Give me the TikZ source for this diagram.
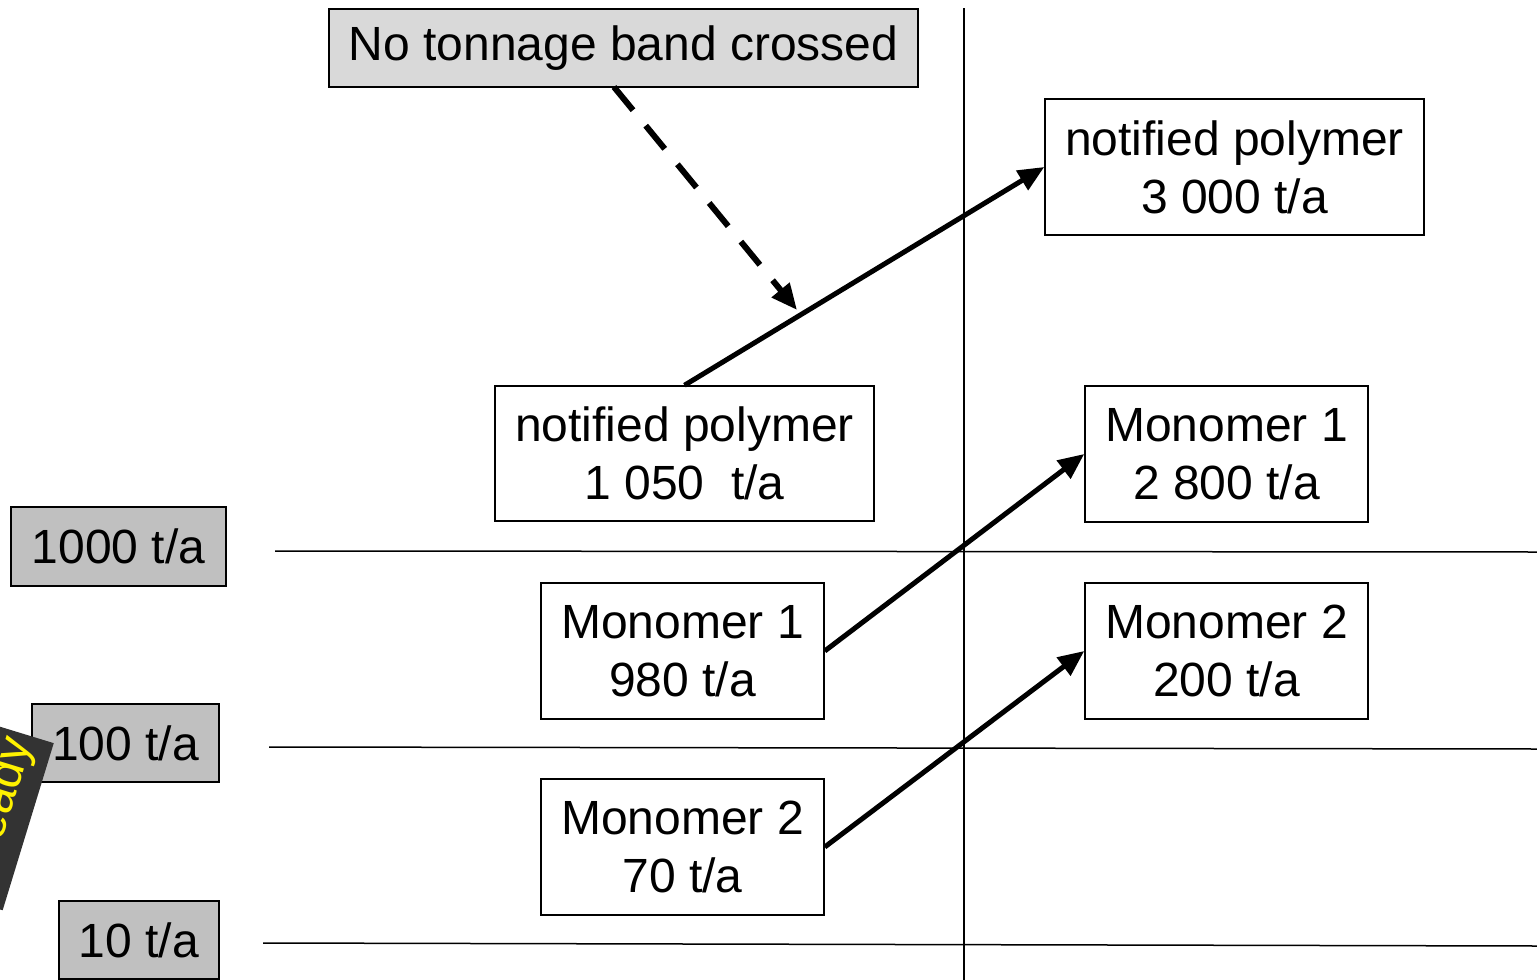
\documentclass[tikz,border=0pt]{standalone}
\usepackage{fontspec}
\setmainfont{Liberation Sans}
\usetikzlibrary{arrows.meta,calc}
\definecolor{bandgray}{HTML}{C0C0C0}
\definecolor{notegray}{HTML}{D9D9D9}
\definecolor{darkbox}{HTML}{333333}
\begin{document}
\begin{tikzpicture}[x=1pt,y=-1pt,
  lbl/.style={font=\fontsize{48}{58}\selectfont, align=center, inner sep=0pt},
  whitebox/.style={lbl, draw=black, line width=1.5pt, fill=white},
  bandbox/.style={lbl, draw=black, line width=1.5pt, fill=bandgray},
  notebox/.style={lbl, draw=black, line width=1.5pt, fill=notegray},
  thinline/.style={line width=1.5pt, black},
  bigarrow/.style={line width=5pt, -{Triangle[length=26pt,width=22pt]}},
  dasharrow/.style={line width=6pt, dash pattern=on 30pt off 20pt, -{Triangle[length=26pt,width=22pt]}}]
\useasboundingbox (0,0) rectangle (1537,980);
\clip (0,0) rectangle (1537,980);
% grid lines
\coordinate (vtop) at (964,8);
\coordinate (vbot) at (964,980);
\draw[thinline] (vtop) -- (vbot);
\coordinate (h1a) at (275,551); \coordinate (h1b) at (1537,552);
\coordinate (h2a) at (269,747); \coordinate (h2b) at (1537,749);
\coordinate (h3a) at (263,943); \coordinate (h3b) at (1537,946);
\draw[thinline] (h1a) -- (h1b);
\draw[thinline] (h2a) -- (h2b);
\draw[thinline] (h3a) -- (h3b);
% band boxes
\node[bandbox, minimum width=215pt, minimum height=79pt] (b1000) at (118.5,546.5) {1000 t/a};
\node[bandbox, minimum width=187pt, minimum height=78pt] (b100) at (125.5,743) {100 t/a};
\node[bandbox, minimum width=160pt, minimum height=78pt] (b10) at (139,940) {10 t/a};
% rotated dark label (cut off at the left edge)
\node[rotate=73, anchor=south east, fill=darkbox, text=yellow,
      font=\fontsize{48}{56}\selectfont, text depth=10pt, text height=80pt,
      inner ysep=11pt, inner xsep=6pt] (already) at (54,743) {Already};
% note box
\node[notebox, minimum width=589pt, minimum height=78pt] (nt) at (623.5,48) {No tonnage band crossed};
% substance boxes
\node[whitebox, minimum width=379pt, minimum height=136pt] (p3) at (1234.5,167) {notified polymer\\3 000 t/a};
\node[whitebox, minimum width=379pt, minimum height=135pt] (p1) at (684.5,453.5) {notified polymer\\1 050\ \ t/a};
\node[whitebox, minimum width=283pt, minimum height=136pt] (m1b) at (1226.5,454) {Monomer 1\\2 800 t/a};
\node[whitebox, minimum width=283pt, minimum height=136pt] (m2b) at (1226.5,651) {Monomer 2\\200 t/a};
\node[whitebox, minimum width=283pt, minimum height=136pt] (m1a) at (682.5,651) {Monomer 1\\980 t/a};
\node[whitebox, minimum width=283pt, minimum height=136pt] (m2a) at (682.5,847) {Monomer 2\\70 t/a};
% arrows
\draw[bigarrow] (p1.north) -- (p3.west);
\draw[bigarrow] (m1a.east) -- (m1b.west);
\draw[bigarrow] (m2a.east) -- (m2b.west);
\coordinate (dstart) at (614,87);
\coordinate (dtip) at (797,310);
\draw[dasharrow] (dstart) -- (dtip);
\end{tikzpicture}
\end{document}
